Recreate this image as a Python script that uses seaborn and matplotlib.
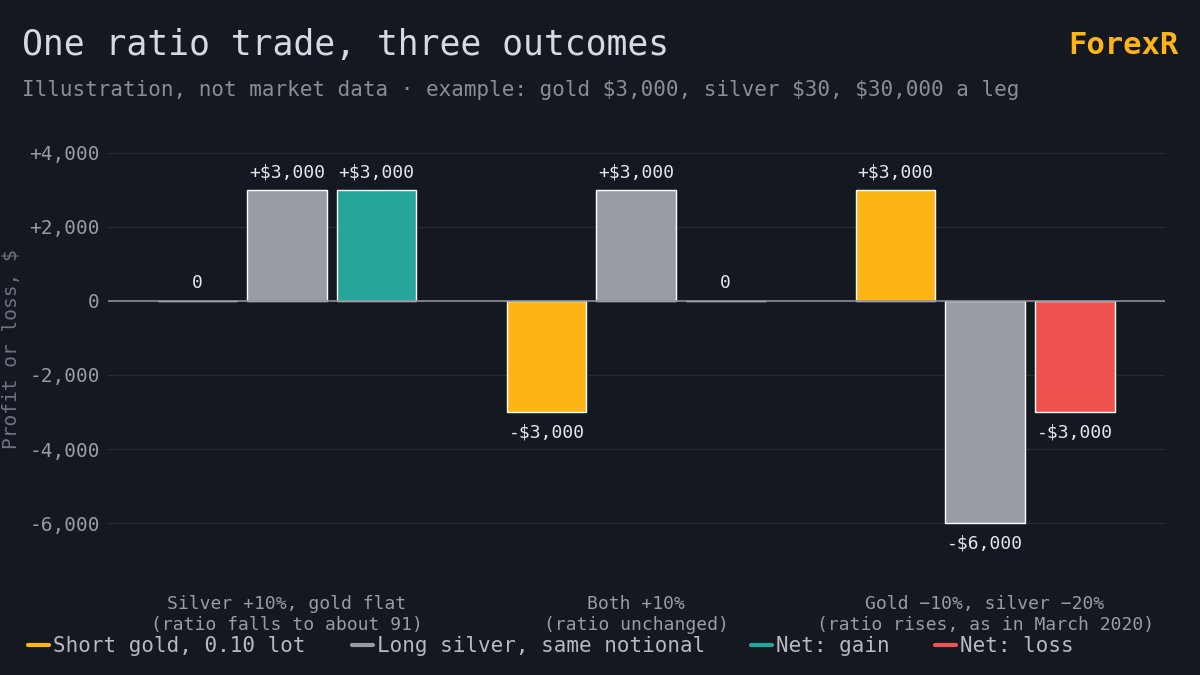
import pandas as pd
import matplotlib.pyplot as plt
import seaborn as sns
from matplotlib.lines import Line2D

scenarios = ["Silver +10%, gold flat\n(ratio falls to about 91)",
             "Both +10%\n(ratio unchanged)",
             "Gold \u221210%, silver \u221220%\n(ratio rises, as in March 2020)"]
legs = ["Short gold", "Long silver", "Net"]
short_gold = [0, -3000, 3000]
long_silver = [3000, 3000, -6000]
net = [3000, 0, -3000]
bar_labels = [["0", "+$3,000", "+$3,000"],
              ["-$3,000", "+$3,000", "0"],
              ["+$3,000", "-$6,000", "-$3,000"]]

BG = "#141821"
GOLD = "#FDB515"
SILVER = "#9A9CA5"
GAIN = "#26A69A"
LOSS = "#EF5350"
TXT = "#9A9CA5"
FONT = ["DejaVu Sans Mono"]

rows = []
for i, s in enumerate(scenarios):
    rows.append((s, legs[0], short_gold[i]))
    rows.append((s, legs[1], long_silver[i]))
    rows.append((s, legs[2], net[i]))
df = pd.DataFrame(rows, columns=["scenario", "leg", "value"])

sns.set_style("dark")
plt.rcParams["font.family"] = FONT

fig = plt.figure(figsize=(12, 6.75), dpi=100, facecolor=BG)
ax = fig.add_axes([0.09, 0.17, 0.881, 0.626], facecolor=BG)
sns.barplot(data=df, x="scenario", y="value", hue="leg", ax=ax,
            palette=[GOLD, SILVER, GAIN], width=0.77, gap=0.11,
            legend=False, saturation=1)

# recolor net bars by sign
for c in ax.containers:
    for j, p in enumerate(c):
        pass
net_bars = ax.containers[2]
for p, v in zip(net_bars, net):
    p.set_facecolor(GAIN if v >= 0 else LOSS)

for k, c in enumerate(ax.containers):
    for i, p in enumerate(c):
        v = p.get_height()
        xc = p.get_x() + p.get_width() / 2
        if v >= 0:
            ax.annotate(bar_labels[i][k], (xc, v), xytext=(0, 6), textcoords="offset points",
                        ha="center", va="bottom", color="#E8E8EC", fontsize=13)
        else:
            ax.annotate(bar_labels[i][k], (xc, v), xytext=(0, -8), textcoords="offset points",
                        ha="center", va="top", color="#E8E8EC", fontsize=13)

ax.set_xlim(-0.513, 2.516)
ax.set_ylim(-7000, 4400)
ax.set_yticks([4000, 2000, 0, -2000, -4000, -6000])
ax.set_yticklabels(["+4,000", "+2,000", "0", "-2,000", "-4,000", "-6,000"])
ax.grid(axis="y", color="#252a35", linewidth=1)
ax.grid(axis="x", visible=False)
ax.axhline(0, color="#8a8d96", linewidth=1.2)
for sp in ax.spines.values():
    sp.set_visible(False)
ax.tick_params(axis="y", colors=TXT, labelsize=14, length=0, pad=6)
ax.tick_params(axis="x", colors=TXT, labelsize=13, length=0, pad=25)
ax.set_xlabel("")
ax.set_ylabel("Profit or loss, $", color="#6f7380", fontsize=14, labelpad=6)

fig.text(0.018, 0.933, "One ratio trade, three outcomes", color="#D8D9DE",
         fontsize=25, va="center")
fig.text(0.982, 0.933, "ForexR", color=GOLD, fontsize=22, ha="right", va="center",
         fontweight="bold")
fig.text(0.018, 0.867, "Illustration, not market data \u00b7 example: gold $3,000, silver $30, $30,000 a leg",
         color="#8a8d96", fontsize=15, va="center")

handles = [Line2D([], [], color=GOLD, lw=3),
           Line2D([], [], color=SILVER, lw=3),
           Line2D([], [], color=GAIN, lw=3),
           Line2D([], [], color=LOSS, lw=3)]
names = ["Short gold, 0.10 lot", "Long silver, same notional", "Net: gain", "Net: loss"]
leg = fig.legend(handles, names, loc="lower left", bbox_to_anchor=(0.008, 0.0), ncol=4,
                 frameon=False, fontsize=15, handlelength=1.0, handletextpad=0.2,
                 columnspacing=2.2)
for t in leg.get_texts():
    t.set_color("#B8BAC2")

fig.savefig("out.png", dpi=100, facecolor=BG)
